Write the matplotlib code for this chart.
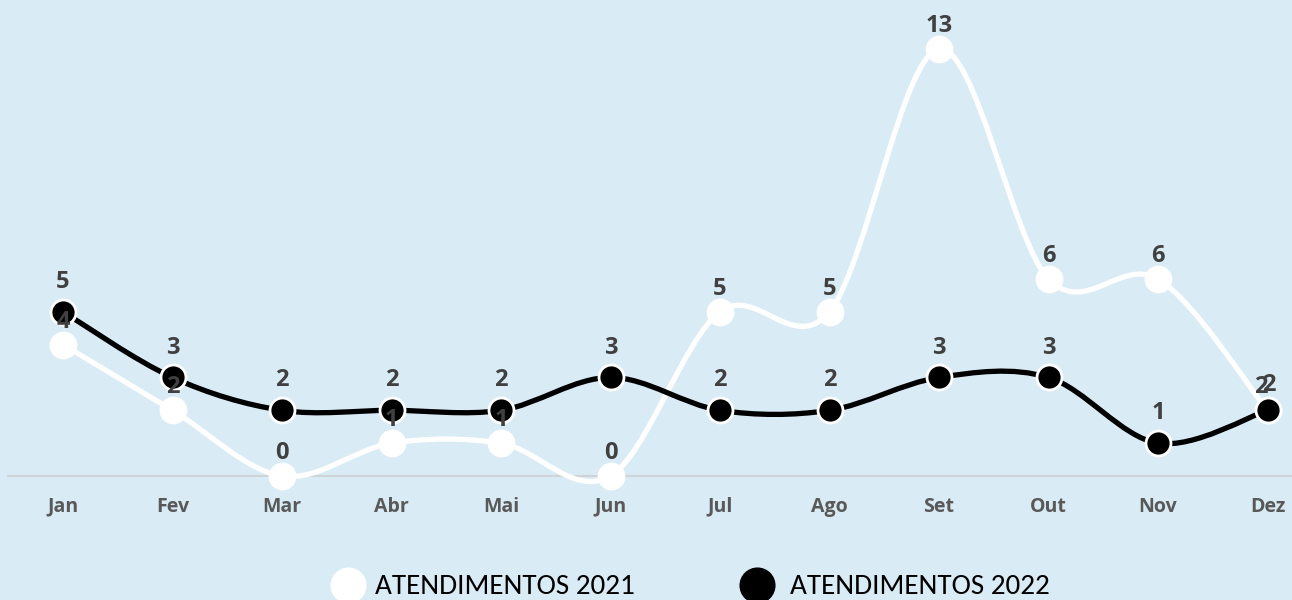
import matplotlib
matplotlib.use("Agg")
import matplotlib.pyplot as plt
from matplotlib.path import Path
from matplotlib.patches import PathPatch
from matplotlib.lines import Line2D
import numpy as np

months = ["Jan", "Fev", "Mar", "Abr", "Mai", "Jun", "Jul", "Ago", "Set", "Out", "Nov", "Dez"]
atend_2021 = [4, 2, 0, 1, 1, 0, 5, 5, 13, 6, 6, 2]
atend_2022 = [5, 3, 2, 2, 2, 3, 2, 2, 3, 3, 1, 2]
series_names = ["ATENDIMENTOS 2021", "ATENDIMENTOS 2022"]

BG = "#D9EBF5"
LABEL = "#404040"
TICK = "#595959"
FONT = "Open Sans"
LEGFONT = ["Carlito", "Liberation Sans Narrow", "Open Sans"]

fig = plt.figure(figsize=(12.92, 6.0), dpi=100)
fig.patch.set_facecolor(BG)
ax = fig.add_axes([8 / 1292, 124 / 600, 1284 / 1292, 476 / 600])
ax.set_facecolor(BG)
for s in ax.spines.values():
    s.set_visible(False)

unit = 109.5
ax.set_xlim(-55 / unit, (1292 - 63) / unit)
ypx = 427 / 13.0
ax.set_ylim(0, 476 / ypx)


def smooth_path(xs, ys, t=1.0 / 6.0):
    pts = np.column_stack([xs, ys]).astype(float)
    n = len(pts)
    verts = [pts[0]]
    codes = [Path.MOVETO]
    for i in range(n - 1):
        p0 = pts[i - 1] if i > 0 else pts[i]
        p1 = pts[i]
        p2 = pts[i + 1]
        p3 = pts[i + 2] if i + 2 < n else pts[i + 1]
        c1 = p1 + (p2 - p0) * t
        c2 = p2 - (p3 - p1) * t
        verts += [c1, c2, p2]
        codes += [Path.CURVE4] * 3
    return Path(verts, codes)


x = np.arange(len(months))

ax.axhline(0, color="#D0D4D6", lw=1.5, zorder=1, clip_on=False)

# 2021 white
ax.add_patch(PathPatch(smooth_path(x, atend_2021), fc="none", ec="white", lw=3.8,
                       zorder=3, clip_on=False, capstyle="round", joinstyle="round"))
ax.plot(x, atend_2021, ls="none", marker="o", ms=19, mfc="white", mec="white",
        zorder=4, clip_on=False)
# 2022 black
ax.add_patch(PathPatch(smooth_path(x, atend_2022), fc="none", ec="black", lw=3.8,
                       zorder=5, clip_on=False, capstyle="round", joinstyle="round"))
ax.plot(x, atend_2022, ls="none", marker="o", ms=18, mfc="black", mec="white", mew=2,
        zorder=6, clip_on=False)

n = len(months)
for i, (xi, v) in enumerate(zip(x, atend_2021)):
    dx = -5 if i == n - 1 else 0
    ax.annotate(str(v), (xi, v), xytext=(dx, 16.5), textcoords="offset points",
                ha="center", va="center", fontsize=17, fontweight="bold",
                color=LABEL, family=FONT, zorder=7, annotation_clip=False)
for i, (xi, v) in enumerate(zip(x, atend_2022)):
    dx = 1 if i == n - 1 else 0
    dy = 18.5 if i == n - 1 else 21.5
    ax.annotate(str(v), (xi, v), xytext=(dx, dy), textcoords="offset points",
                ha="center", va="center", fontsize=17, fontweight="bold",
                color=LABEL, family=FONT, zorder=7, annotation_clip=False)

ax.set_yticks([])
ax.set_xticks(x)
ax.set_xticklabels(months, fontsize=14, fontweight="bold", color=TICK, family=FONT)
ax.tick_params(axis="x", length=0, pad=15)

# legend drawn in figure pixel positions
ly = 1 - 585 / 600
for cx, tx, col, name in [(348, 375, "white", series_names[0]),
                          (757, 790, "black", series_names[1])]:
    fig.add_artist(Line2D([cx / 1292], [ly], ls="none", marker="o", ms=25,
                          mfc=col, mec=col, transform=fig.transFigure))
    fig.text(tx / 1292, ly - 2 / 600, name, ha="left", va="center", fontsize=21,
             color="black", family=LEGFONT)

fig.savefig("out.png", dpi=100, facecolor=BG)
